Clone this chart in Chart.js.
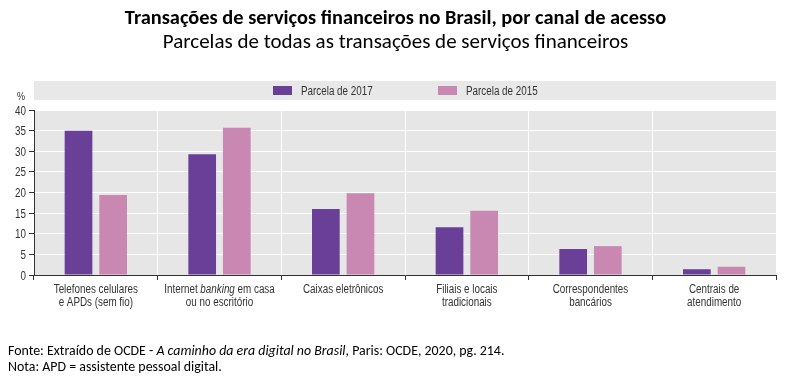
<!DOCTYPE html>
<html>
<head>
<meta charset="utf-8">
<script src="https://cdn.jsdelivr.net/npm/chart.js@4/dist/chart.umd.min.js"></script>
<style>
  html, body { margin: 0; padding: 0; background: #fff; }
  body { width: 791px; height: 383px; position: relative; overflow: hidden; }
  #c { position: absolute; left: 0; top: 0; }
  .t { position: absolute; left: 0; width: 791px; text-align: center; color: #000; font-family: Carlito, Calibri, Lato, "Open Sans", sans-serif; white-space: nowrap; line-height: 1; }
  #title { top: 7px; font-size: 20.4px; font-weight: bold; }
  #sub { top: 31px; font-size: 21px; }
  .f { position: absolute; left: 8px; font-family: Carlito, Calibri, Lato, "Open Sans", sans-serif; font-size: 13.9px; color: #000; white-space: nowrap; line-height: 1; }
  #f1 { top: 344px; }
  #f2 { top: 360px; }
</style>
</head>
<body>
<canvas id="c" width="791" height="383"></canvas>
<div class="t" id="title">Transações de serviços financeiros no Brasil, por canal de acesso</div>
<div class="t" id="sub">Parcelas de todas as transações de serviços financeiros</div>
<div class="f" id="f1">Fonte: Extraído de OCDE - <i>A caminho da era digital no Brasil</i>, Paris: OCDE, 2020, pg. 214.</div>
<div class="f" id="f2">Nota: APD = assistente pessoal digital.</div>
<script>
// Data
const categories = [
  "Telefones celulares e APDs (sem fio)",
  "Internet banking em casa ou no escritório",
  "Caixas eletrônicos",
  "Filiais e locais tradicionais",
  "Correspondentes bancários",
  "Centrais de atendimento"
];
// Display lines of category labels; segments starting with * are italic
const categoryLines = [
  [["Telefones celulares"], ["e APDs (sem fio)"]],
  [["Internet ", "*banking", " em casa"], ["ou no escritório"]],
  [["Caixas eletrônicos"]],
  [["Filiais e locais"], ["tradicionais"]],
  [["Correspondentes"], ["bancários"]],
  [["Centrais de"], ["atendimento"]]
];
const seriesNames = ["Parcela de 2017", "Parcela de 2015"];
const share2017 = [35.0, 29.3, 16.0, 11.6, 6.3, 1.4];
const share2015 = [19.4, 35.7, 19.8, 15.6, 7.0, 2.0];
const yTicks = [0, 5, 10, 15, 20, 25, 30, 35, 40];
const yUnit = "%";

const FONT = '"Liberation Sans", Arial, sans-serif';
const NARROW = 0.82;
const TXT = '#333333';
const PURPLE = '#6a3f98';
const PINK = '#c888b2';

function segW(ctx, s, size) {
  const it = s[0] === '*';
  ctx.font = (it ? 'italic ' : '') + size + 'px ' + FONT;
  return ctx.measureText(it ? s.slice(1) : s).width * NARROW;
}
function drawLine(ctx, segs, x, y, align, size) {
  const ws = segs.map(s => segW(ctx, s, size));
  const total = ws.reduce((p, q) => p + q, 0);
  let sx = align === 'center' ? x - total / 2 : (align === 'right' ? x - total : x);
  ctx.textAlign = 'left';
  segs.forEach((s, k) => {
    const it = s[0] === '*';
    ctx.font = (it ? 'italic ' : '') + size + 'px ' + FONT;
    ctx.save();
    ctx.translate(sx, y);
    ctx.scale(NARROW, 1);
    ctx.fillText(it ? s.slice(1) : s, 0, 0);
    ctx.restore();
    sx += ws[k];
  });
}

const decor = {
  id: 'decor',
  beforeDraw(chart) {
    const ctx = chart.ctx, a = chart.chartArea;
    ctx.save();
    ctx.fillStyle = '#e6e6e6';
    ctx.fillRect(a.left, a.top, a.right - a.left, a.bottom - a.top);
    ctx.fillStyle = '#e8e8e8';
    ctx.fillRect(a.left, 81, a.right - a.left, 19);
    ctx.restore();
  },
  afterDraw(chart) {
    const ctx = chart.ctx, a = chart.chartArea;
    ctx.save();
    ctx.fillStyle = TXT;
    ctx.textBaseline = 'alphabetic';
    // legend
    const lx = [273, 438];
    chart.data.datasets.forEach((ds, i) => {
      ctx.fillStyle = ds.backgroundColor;
      ctx.fillRect(lx[i], 86, 19, 9);
      ctx.fillStyle = TXT;
      drawLine(ctx, [ds.label], lx[i] + 28, 95, 'left', 12);
    });
    // unit label
    drawLine(ctx, [yUnit], 21, 100, 'center', 11);
    // y tick labels
    const ys = chart.scales.y;
    yTicks.forEach(v => {
      drawLine(ctx, [String(v)], 26, ys.getPixelForValue(v) + 4.5, 'right', 12);
    });
    // category labels
    const xs = chart.scales.x;
    categoryLines.forEach((lines, i) => {
      const cx = xs.getPixelForValue(i);
      lines.forEach((segs, j) => {
        drawLine(ctx, segs, cx, a.bottom + 18 + j * 13, 'center', 12);
      });
    });
    ctx.restore();
  }
};

new Chart(document.getElementById('c'), {
  type: 'bar',
  data: {
    labels: categories,
    datasets: [
      { label: seriesNames[0], data: share2017, backgroundColor: PURPLE },
      { label: seriesNames[1], data: share2015, backgroundColor: PINK }
    ]
  },
  options: {
    responsive: false,
    animation: false,
    devicePixelRatio: 1,
    layout: { padding: { top: 110, right: 15, left: 0, bottom: 0 } },
    categoryPercentage: 0.56,
    barPercentage: 0.8,
    plugins: { legend: { display: false }, title: { display: false }, tooltip: { enabled: false } },
    scales: {
      x: {
        grid: { color: '#ffffff', lineWidth: 1, offset: true, drawTicks: true, tickLength: 5, tickColor: '#333333' },
        border: { color: '#333333', width: 1 },
        ticks: { display: false },
        afterFit(s) { s.height = 108; s.paddingLeft = 0; s.paddingRight = 0; }
      },
      y: {
        min: 0, max: 40,
        afterBuildTicks(s) { s.ticks = yTicks.map(v => ({ value: v })); },
        grid: { color: '#ffffff', lineWidth: 1, tickLength: 5, tickColor: '#333333' },
        border: { color: '#333333', width: 1 },
        ticks: { color: 'rgba(0,0,0,0)', font: { size: 11 } },
        afterFit(s) { s.width = 34; s.paddingTop = 0; s.paddingBottom = 0; }
      }
    }
  },
  plugins: [decor]
});
</script>
</body>
</html>
